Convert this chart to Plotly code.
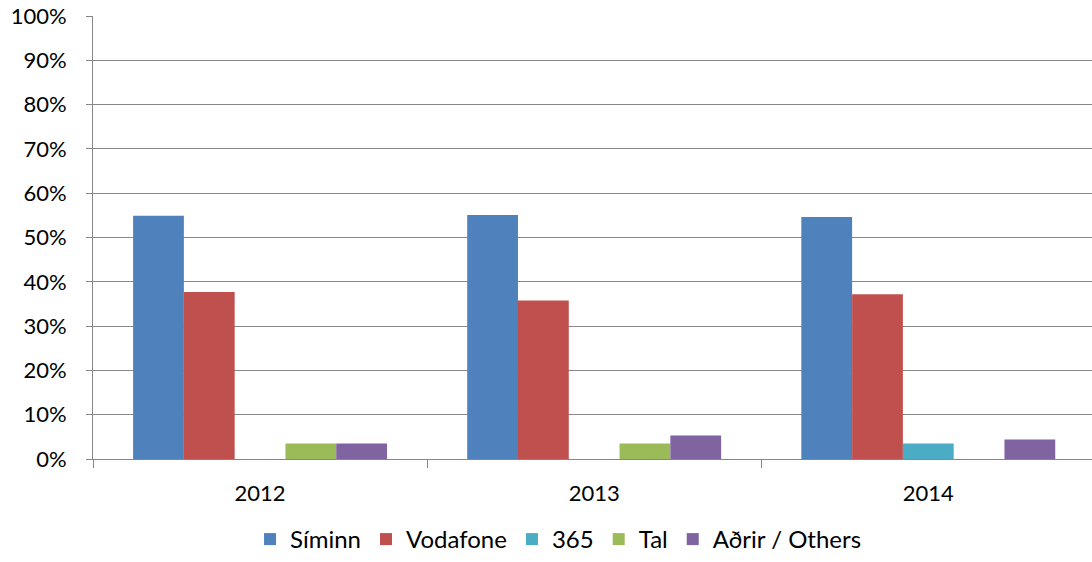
import plotly.graph_objects as go

years = ["2012", "2013", "2014"]
series_names = ["Síminn", "Vodafone", "365", "Tal", "Aðrir / Others"]
simin = [0.549, 0.551, 0.546]
vodafone = [0.377, 0.358, 0.372]
s365 = [0.0, 0.0, 0.035]
tal = [0.035, 0.035, 0.0]
others = [0.035, 0.053, 0.044]
colors = ["#4F81BD", "#C0504D", "#4BACC6", "#9BBB59", "#8064A2"]
y_ticks = [0, 0.1, 0.2, 0.3, 0.4, 0.5, 0.6, 0.7, 0.8, 0.9, 1.0]

fig = go.Figure()
for name, vals, col in zip(series_names, [simin, vodafone, s365, tal, others], colors):
    fig.add_trace(go.Bar(x=years, y=vals, name=name, marker=dict(color=col, line=dict(width=0))))

font = "Lato, 'Open Sans', sans-serif"
fig.update_layout(
    width=1092, height=562,
    margin=dict(l=93, r=0, t=16, b=103, autoexpand=False),
    plot_bgcolor="white", paper_bgcolor="white",
    barmode="group", bargap=0.24, bargroupgap=0,
    font=dict(family=font, size=22, color="#000000"),
    showlegend=True,
    legend=dict(orientation="h", x=0.466, xanchor="center",
                yref="container", y=0.0, yanchor="bottom",
                font=dict(size=24), itemwidth=30, traceorder="normal"),
    xaxis=dict(type="category", range=[-0.5, 2.49], showgrid=False,
               showline=True, linecolor="#878787", linewidth=1,
               ticks="outside", tickson="boundaries", ticklen=8, tickcolor="#878787",
               tickfont=dict(size=22), ticklabelstandoff=15),
    yaxis=dict(range=[0, 1], tickvals=y_ticks, tickformat=".0%",
               showgrid=True, gridcolor="#878787", gridwidth=1,
               showline=True, linecolor="#878787", linewidth=1,
               ticks="outside", ticklen=6, tickcolor="#878787",
               tickfont=dict(size=22), ticklabelstandoff=15, zeroline=False),
)

fig.write_html("out.html", config={"displayModeBar": False},
               post_script="document.body.style.margin='0';document.body.style.overflow='hidden';")
